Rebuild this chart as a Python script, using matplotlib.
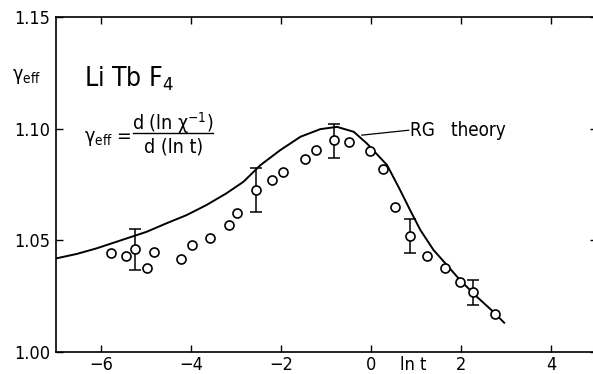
import matplotlib
matplotlib.use("Agg")
from matplotlib import pyplot as plt
import numpy as np

plt.rcParams['font.family'] = ['DejaVu Sans']
plt.rcParams['font.stretch'] = 'condensed'
plt.rcParams['mathtext.fontset'] = 'dejavusans'

# Measured points (ln t, gamma_eff)
data_x = [-5.79, -5.45, -5.24, -4.97, -4.82, -4.23, -3.99, -3.58, -3.16, -2.98,
          -2.55, -2.20, -1.96, -1.48, -1.23, -0.82, -0.50, -0.02, 0.25, 0.52,
          0.87, 1.24, 1.63, 1.97, 2.25, 2.75]
data_y = [1.0444, 1.0430, 1.0461, 1.0375, 1.0448, 1.0418, 1.0480, 1.0509, 1.0568, 1.0624,
          1.0725, 1.0770, 1.0807, 1.0862, 1.0906, 1.0949, 1.0941, 1.0900, 1.0818, 1.0648,
          1.0519, 1.0428, 1.0377, 1.0315, 1.0267, 1.0172]

# Points carrying error bars
err_x = [-5.24, -2.55, -0.82, 0.87, 2.25]
err_y = [1.0461, 1.0725, 1.0949, 1.0519, 1.0267]
err_lo = [0.0094, 0.0098, 0.0079, 0.0077, 0.0057]
err_hi = [0.0088, 0.0099, 0.0070, 0.0076, 0.0055]

# RG theory curve
theory_x = [-7.0, -6.54, -6.10, -5.65, -5.32, -4.99, -4.55, -4.10, -3.66, -3.22,
            -2.84, -2.46, -2.02, -1.57, -1.13, -0.76, -0.39, -0.10, 0.35, 0.64,
            0.86, 1.09, 1.38, 1.68, 1.97, 2.34, 2.71, 2.95]
theory_y = [1.0419, 1.0439, 1.0464, 1.0494, 1.0516, 1.0538, 1.0576, 1.0613, 1.0658, 1.0710,
            1.0762, 1.0837, 1.0904, 1.0964, 1.0998, 1.1008, 1.0986, 1.0934, 1.0837, 1.0725,
            1.0636, 1.0546, 1.0457, 1.0389, 1.0322, 1.0248, 1.0180, 1.0131]

fig = plt.figure(figsize=(5.93, 3.74), dpi=100)
ax = fig.add_axes([56 / 593, 22 / 374, 540.5 / 593, 335 / 374])

ax.plot(theory_x, theory_y, color='black', lw=1.4, zorder=2)
ax.errorbar(err_x, err_y, yerr=[err_lo, err_hi], fmt='none', ecolor='black',
            elinewidth=1.1, capsize=4, capthick=1.1, zorder=3)
ax.plot(data_x, data_y, 'o', ms=6.5, mfc='white', mec='black', mew=1.2, zorder=4)

ax.set_xlim(-7, 5)
ax.set_ylim(1.00, 1.15)
ax.set_xticks([-6, -4, -2, 0, 2, 4])
ax.set_xticklabels(['\u22126', '\u22124', '\u22122', '0', '2', '4'])
ax.set_yticks([1.00, 1.05, 1.10, 1.15])
ax.set_yticklabels(['1.00', '1.05', '1.10', '1.15'])
ax.tick_params(direction='in', length=5, width=1, labelsize=13,
               top=True, right=True, pad=3)
ax.tick_params(axis='y', pad=4)
ax.spines['right'].set_visible(False)
for s in ['left', 'bottom', 'top']:
    ax.spines[s].set_linewidth(1.2)

# axis labels
ax.annotate('ln t', xy=(0.92, 1.0), xytext=(0, -3), textcoords='offset points',
            fontsize=13, ha='center', va='top')
fig.text(12 / 593, 1 - 77 / 374, r'γ$_{\rm eff}$', fontsize=14, va='center')

# sample name
ax.text(-6.38, 1.1225, r'Li Tb F$_4$', fontsize=19, va='center')

# definition of gamma_eff, written as a stacked fraction
ax.text(-6.38, 1.0955, r'γ$_{\rm eff}$ =', fontsize=14, va='center')
ax.plot([-5.28, -3.51], [1.0979, 1.0979], color='black', lw=1.0)
ax.text(-4.40, 1.1024, r'd (ln χ$^{-1}$)', fontsize=14, ha='center', va='center')
ax.text(-4.40, 1.0918, 'd (ln t)', fontsize=14, ha='center', va='center')

# theory label with leader line
ax.plot([-0.21, 0.83], [1.0971, 1.0993], color='black', lw=0.9)
ax.text(0.85, 1.0993, 'RG   theory', fontsize=13.5, va='center')

fig.savefig('out.png', dpi=100)
